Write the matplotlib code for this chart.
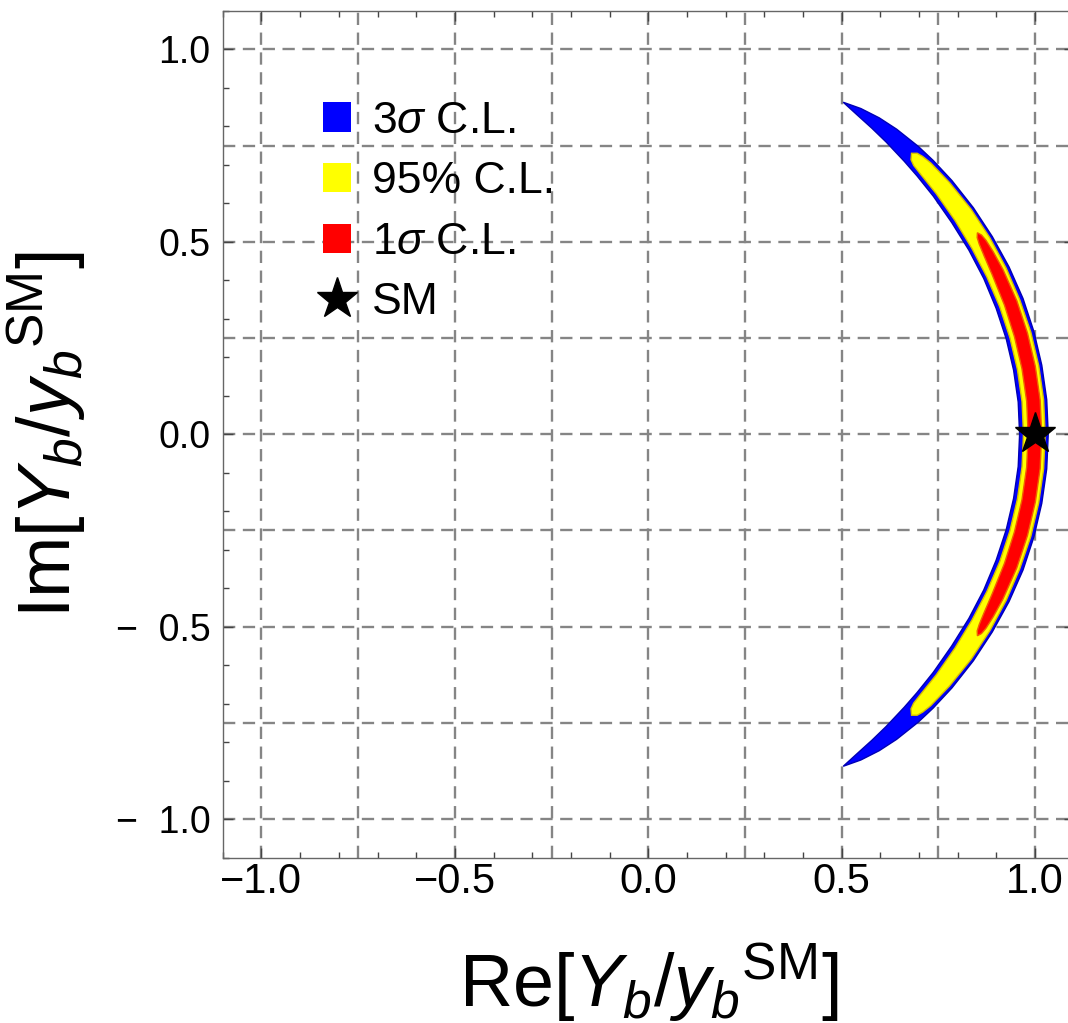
import numpy as np
import matplotlib
matplotlib.use("Agg")
import matplotlib.pyplot as plt
import matplotlib.patches as mpatches
from matplotlib.lines import Line2D
from matplotlib.ticker import MultipleLocator, FuncFormatter

plt.rcParams["font.family"] = ["Liberation Sans", "DejaVu Sans"]
plt.rcParams["mathtext.fontset"] = "custom"
plt.rcParams["mathtext.rm"] = "Liberation Sans"
plt.rcParams["mathtext.it"] = "Liberation Sans:italic"

# band edges, upper half (angle in degrees, radius);
# the picture is symmetric about Im = 0
theta_3s = [0, 5, 10, 15, 20, 25, 30, 35, 40, 44, 47, 51, 54, 57, 59.7]
rout_3s = [1.034, 1.034, 1.033, 1.032, 1.031, 1.029, 1.027, 1.026, 1.025, 1.024, 1.023, 1.020, 1.016, 1.009, 0.999]
rin_3s = [0.960, 0.960, 0.959, 0.958, 0.957, 0.957, 0.957, 0.958, 0.962, 0.966, 0.970, 0.977, 0.983, 0.990, 0.999]

theta_95 = [0, 5, 10, 15, 20, 25, 30, 35, 40, 44, 45.5, 46.4, 47]
rout_95 = [1.026, 1.026, 1.025, 1.024, 1.022, 1.021, 1.020, 1.019, 1.017, 1.015, 1.012, 1.008, 0.998]
rin_95 = [0.970, 0.970, 0.969, 0.968, 0.967, 0.966, 0.966, 0.968, 0.972, 0.976, 0.979, 0.985, 0.998]

theta_1s = [0, 5, 10, 15, 20, 25, 28, 30, 31, 31.6]
rout_1s = [1.017, 1.017, 1.016, 1.015, 1.014, 1.012, 1.010, 1.008, 1.005, 0.999]
rin_1s = [0.982, 0.982, 0.981, 0.980, 0.980, 0.981, 0.984, 0.988, 0.992, 0.999]

sm_point = (1.0, 0.0)

band_labels = [r"3$\sigma$ C.L.", "95% C.L.", r"1$\sigma$ C.L."]
band_colors = ["#0000ff", "#ffff00", "#ff0000"]
edge_colors = ["#0000b4", "#d8c000", "#f06000"]


def band_xy(theta, r_in, r_out):
    theta = np.asarray(theta, float)
    r_in = np.asarray(r_in, float)
    r_out = np.asarray(r_out, float)
    th = np.concatenate([-theta[::-1], theta[1:]])
    ro = np.concatenate([r_out[::-1], r_out[1:]])
    ri = np.concatenate([r_in[::-1], r_in[1:]])
    t = np.deg2rad(np.concatenate([th, th[::-1]]))
    r = np.concatenate([ro, ri[::-1]])
    return r * np.cos(t), r * np.sin(t)


def x_fmt(v, pos):
    return f"{v:.1f}".replace("-", "\u2212")


def y_fmt(v, pos):
    return f"{v:.1f}".replace("-", "\u2212  ")


fig = plt.figure(figsize=(10.68, 10.23), dpi=100)
ax = fig.add_axes([0.2086, 0.1616, 0.7968, 0.8278])

bands = [(theta_3s, rin_3s, rout_3s), (theta_95, rin_95, rout_95), (theta_1s, rin_1s, rout_1s)]
for (th, ri, ro), fc, ec in zip(bands, band_colors, edge_colors):
    x, y = band_xy(th, ri, ro)
    ax.fill(x, y, facecolor=fc, edgecolor=ec, lw=1.0, zorder=3)

ax.plot(*sm_point, marker="*", ms=31, color="black", ls="none", zorder=5)

ax.set_xlim(-1.1, 1.1)
ax.set_ylim(-1.1, 1.1)

grid_pos = np.arange(-1.0, 1.01, 0.25)
for g in grid_pos:
    ax.axvline(g, color="#858585", lw=1.7, ls=(0, (5.2, 3.2)), zorder=1)
    ax.axhline(g, color="#858585", lw=1.7, ls=(0, (5.2, 3.2)), zorder=1)

ax.xaxis.set_major_formatter(FuncFormatter(x_fmt))
ax.yaxis.set_major_formatter(FuncFormatter(y_fmt))
for axis in (ax.xaxis, ax.yaxis):
    axis.set_major_locator(MultipleLocator(0.5))
    axis.set_minor_locator(MultipleLocator(0.1))
ax.tick_params(which="both", direction="in", top=True, right=True, color="#444444", width=1.0)
ax.tick_params(which="major", length=7.5)
ax.tick_params(which="minor", length=4.3)
ax.tick_params(axis="x", which="major", labelsize=30, pad=3)
ax.tick_params(axis="y", which="major", labelsize=27, pad=9)
for sp in ax.spines.values():
    sp.set_color("#666666")
    sp.set_linewidth(1.0)

ax.set_xlabel(r"Re$[Y_b/y_b{}^{\mathrm{SM}}]$", fontsize=53)
ax.set_ylabel(r"Im$[Y_b/y_b{}^{\mathrm{SM}}]$", fontsize=53)
ax.xaxis.set_label_coords(0.5, -0.098)
ax.yaxis.set_label_coords(-0.158, 0.5)

handles = [mpatches.Patch(facecolor=c, edgecolor="none") for c in band_colors]
handles.append(Line2D([], [], marker="*", ms=31, color="black", ls="none"))
leg = ax.legend(handles, band_labels + ["SM"], loc="upper left",
                bbox_to_anchor=(0.1177, 0.894), frameon=False, fontsize=32,
                handlelength=0.63, handleheight=0.63, handletextpad=0.47,
                labelspacing=0.44, borderpad=0, borderaxespad=0)

fig.savefig("out.png", dpi=100)
